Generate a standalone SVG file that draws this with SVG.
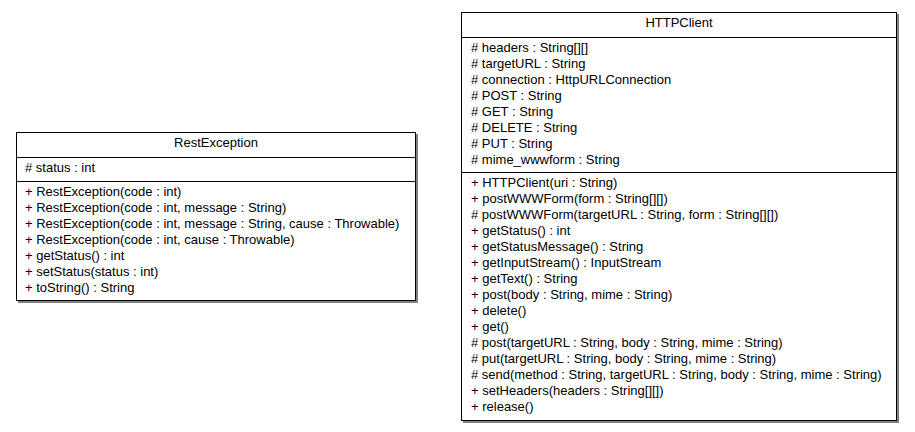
<svg xmlns="http://www.w3.org/2000/svg" width="915" height="432" viewBox="0 0 915 432">
<style>
.bg{fill:#ffffff}
.shadow{fill:#808080}
.box{fill:#ffffff;stroke:#000000;stroke-width:1}
.div{stroke:#000000;stroke-width:1}
text{font-family:"Liberation Sans",Arial,sans-serif;font-size:13px;fill:#000000}
.title{text-anchor:middle}
</style>
<rect class="bg" x="0" y="0" width="915" height="432"/>
<g id="RestException">
<rect class="shadow" x="18" y="134" width="400" height="169"/>
<rect class="box" x="16.5" y="132.5" width="399" height="168"/>
<line class="div" x1="16.5" y1="157.5" x2="415.5" y2="157.5"/>
<line class="div" x1="16.5" y1="181.5" x2="415.5" y2="181.5"/>
<text class="title" x="216" y="147">RestException</text>
<text x="25" y="172"># status : int</text>
<text x="25" y="196">+ RestException(code : int)</text>
<text x="25" y="212">+ RestException(code : int, message : String)</text>
<text x="25" y="228">+ RestException(code : int, message : String, cause : Throwable)</text>
<text x="25" y="244">+ RestException(code : int, cause : Throwable)</text>
<text x="25" y="260">+ getStatus() : int</text>
<text x="25" y="276">+ setStatus(status : int)</text>
<text x="25" y="292">+ toString() : String</text>
</g>
<g id="HTTPClient">
<rect class="shadow" x="463" y="14" width="436" height="409"/>
<rect class="box" x="461.5" y="12.5" width="435" height="408"/>
<line class="div" x1="461.5" y1="37.5" x2="896.5" y2="37.5"/>
<line class="div" x1="461.5" y1="172.5" x2="896.5" y2="172.5"/>
<text class="title" x="679" y="27">HTTPClient</text>
<text x="471" y="52"># headers : String[][]</text>
<text x="471" y="68"># targetURL : String</text>
<text x="471" y="84"># connection : HttpURLConnection</text>
<text x="471" y="100"># POST : String</text>
<text x="471" y="116"># GET : String</text>
<text x="471" y="132"># DELETE : String</text>
<text x="471" y="148"># PUT : String</text>
<text x="471" y="164"># mime_wwwform : String</text>
<text x="471" y="187">+ HTTPClient(uri : String)</text>
<text x="471" y="203">+ postWWWForm(form : String[][])</text>
<text x="471" y="219"># postWWWForm(targetURL : String, form : String[][])</text>
<text x="471" y="235">+ getStatus() : int</text>
<text x="471" y="251">+ getStatusMessage() : String</text>
<text x="471" y="267">+ getInputStream() : InputStream</text>
<text x="471" y="283">+ getText() : String</text>
<text x="471" y="299">+ post(body : String, mime : String)</text>
<text x="471" y="315">+ delete()</text>
<text x="471" y="331">+ get()</text>
<text x="471" y="347"># post(targetURL : String, body : String, mime : String)</text>
<text x="471" y="363"># put(targetURL : String, body : String, mime : String)</text>
<text x="471" y="379"># send(method : String, targetURL : String, body : String, mime : String)</text>
<text x="471" y="395">+ setHeaders(headers : String[][])</text>
<text x="471" y="411">+ release()</text>
</g>
<g id="connectors"/>
</svg>
